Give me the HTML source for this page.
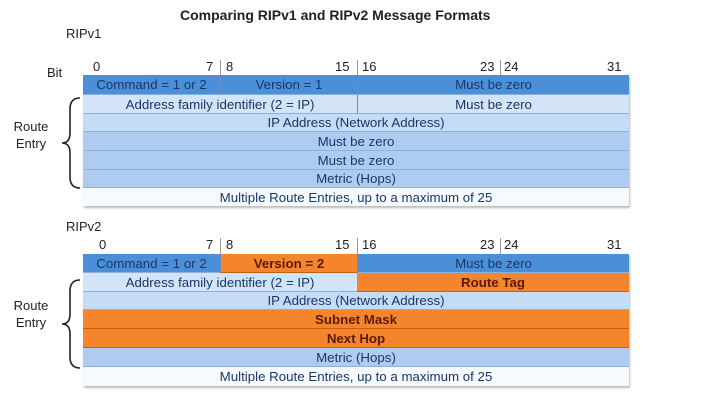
<!DOCTYPE html><html><head><style>
body{margin:0;width:727px;height:402px;background:#fff;position:relative;font-family:"Liberation Sans",sans-serif;overflow:hidden}
div{position:absolute;box-sizing:border-box}
.c{display:flex;align-items:center;justify-content:center;font-size:13.3px;color:#1b3768;border-bottom:1px solid #8fb0d8;white-space:nowrap}
.d{background:#4b8fd8}.l{background:#d3e4f9}.m{background:#aecbf0}.w{background:#f6f9fd}
.o{background:#f5852c;color:#5a1a00;font-weight:bold;border-bottom:1px solid #c06010}
.t{font-size:13px;color:#222}
.sep{border-left:1px solid #6d8fbb}
</style></head><body>
<div style="left:180px;width:310px;top:7px;text-align:center;font-weight:bold;font-size:14px;color:#222;white-space:nowrap">Comparing RIPv1 and RIPv2 Message Formats</div>
<div class="t" style="left:66px;top:26px">RIPv1</div>
<div class="t" style="left:47px;top:65px">Bit</div>
<div class="t" style="left:93px;top:59px">0</div><div class="t" style="left:206px;top:59px">7</div><div class="t" style="left:226px;top:59px">8</div>
<div class="t" style="left:335px;top:59px">15</div><div class="t" style="left:362px;top:59px">16</div><div class="t" style="left:480px;top:59px">23</div><div class="t" style="left:504px;top:59px">24</div><div class="t" style="left:607px;top:59px">31</div>
<div style="left:220px;top:60px;height:15px;border-left:1px solid #999"></div>
<div style="left:357px;top:60px;height:15px;border-left:1px solid #999"></div>
<div style="left:500px;top:60px;height:15px;border-left:1px solid #999"></div>
<div style="left:83px;top:75px;width:546px;height:131px;box-shadow:1px 2px 2px #bbb"></div>
<div class="c d" style="left:83px;top:75px;width:137px;height:20px">Command = 1 or 2</div>
<div class="c d sep" style="left:220px;top:75px;width:137px;height:20px">Version = 1</div>
<div class="c d sep" style="left:357px;top:75px;width:272px;height:20px">Must be zero</div>
<div class="c l" style="left:83px;top:95px;width:274px;height:19px">Address family identifier (2 = IP)</div>
<div class="c l sep" style="left:357px;top:95px;width:272px;height:19px">Must be zero</div>
<div class="c l" style="left:83px;top:114px;width:546px;height:18px;background:#c6dcf6">IP Address (Network Address)</div>
<div class="c m" style="left:83px;top:132px;width:546px;height:19px">Must be zero</div>
<div class="c m" style="left:83px;top:151px;width:546px;height:19px">Must be zero</div>
<div class="c m" style="left:83px;top:170px;width:546px;height:18px">Metric (Hops)</div>
<div class="c w" style="left:83px;top:188px;width:546px;height:18px;border-bottom:none">Multiple Route Entries, up to a maximum of 25</div>
<div class="t" style="left:8px;top:118px;text-align:center;width:46px;line-height:17px">Route<br>Entry</div>
<svg style="position:absolute;left:60px;top:97px" width="24" height="92"><path d="M20 1 Q10 1 10 12 L10 36 Q10 46 2 46 Q10 46 10 56 L10 80 Q10 91 20 91" fill="none" stroke="#222" stroke-width="1.6"/></svg>

<div class="t" style="left:66px;top:219px">RIPv2</div>
<div class="t" style="left:99px;top:237px">0</div><div class="t" style="left:206px;top:237px">7</div><div class="t" style="left:226px;top:237px">8</div>
<div class="t" style="left:335px;top:237px">15</div><div class="t" style="left:362px;top:237px">16</div><div class="t" style="left:480px;top:237px">23</div><div class="t" style="left:504px;top:237px">24</div><div class="t" style="left:607px;top:237px">31</div>
<div style="left:220px;top:238px;height:16px;border-left:1px solid #999"></div>
<div style="left:357px;top:238px;height:16px;border-left:1px solid #999"></div>
<div style="left:500px;top:238px;height:16px;border-left:1px solid #999"></div>
<div style="left:83px;top:254px;width:546px;height:132px;box-shadow:1px 2px 2px #bbb"></div>
<div class="c d" style="left:83px;top:254px;width:137px;height:19px">Command = 1 or 2</div>
<div class="c o sep" style="left:220px;top:254px;width:137px;height:19px">Version = 2</div>
<div class="c d sep" style="left:357px;top:254px;width:272px;height:19px">Must be zero</div>
<div class="c l" style="left:83px;top:273px;width:274px;height:19px">Address family identifier (2 = IP)</div>
<div class="c o" style="left:357px;top:273px;width:272px;height:19px">Route Tag</div>
<div class="c l" style="left:83px;top:292px;width:546px;height:18px;background:#c6dcf6">IP Address (Network Address)</div>
<div class="c o" style="left:83px;top:310px;width:546px;height:19px">Subnet Mask</div>
<div class="c o" style="left:83px;top:329px;width:546px;height:19px">Next Hop</div>
<div class="c m" style="left:83px;top:348px;width:546px;height:19px">Metric (Hops)</div>
<div class="c w" style="left:83px;top:367px;width:546px;height:19px;border-bottom:none">Multiple Route Entries, up to a maximum of 25</div>
<div class="t" style="left:8px;top:297px;text-align:center;width:46px;line-height:17px">Route<br>Entry</div>
<svg style="position:absolute;left:60px;top:279px" width="24" height="90"><path d="M20 1 Q10 1 10 12 L10 35 Q10 45 2 45 Q10 45 10 55 L10 78 Q10 89 20 89" fill="none" stroke="#222" stroke-width="1.6"/></svg>
</body></html>
